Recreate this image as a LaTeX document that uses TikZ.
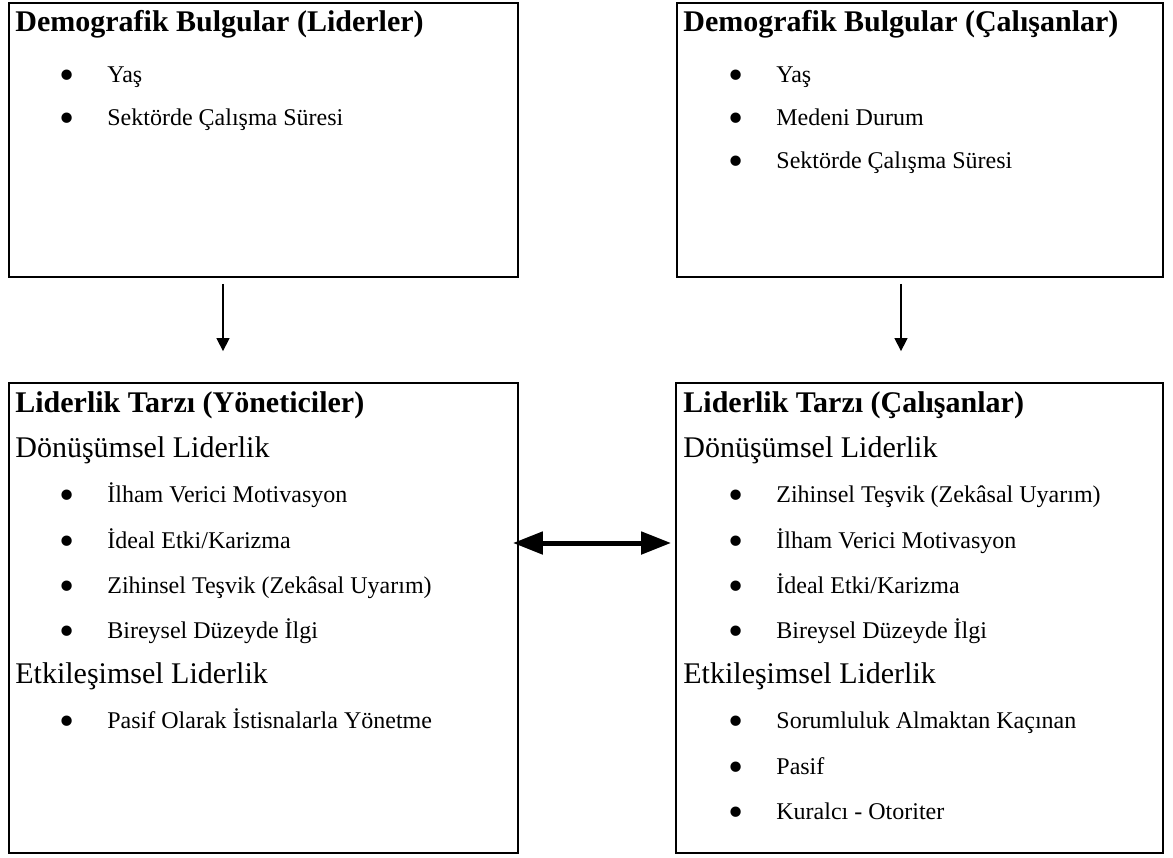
\documentclass[tikz,border=0pt]{standalone}
\usepackage{fontspec}
\setmainfont{Liberation Serif}
\usepackage{tikz}
\usetikzlibrary{arrows.meta}

\newcommand{\blt}{\makebox[0pt]{\raisebox{-3.6pt}{\scalebox{1.8}{\textbullet}}}\hspace{20pt}}

\begin{document}
\begin{tikzpicture}[x=0.5pt, y=-0.5pt,
    box/.style={draw, line width=0.9pt, inner sep=0pt},
    head/.style={anchor=base west, inner sep=0pt, font=\fontsize{15}{18}\selectfont\bfseries},
    sub/.style={anchor=base west, inner sep=0pt, font=\fontsize{15}{18}\selectfont},
    item/.style={anchor=base west, inner sep=0pt, font=\fontsize{12}{14}\selectfont}]
    \useasboundingbox (0,0) rectangle (1173,857);
    % boxes
    \node[box, minimum width=254.5pt, minimum height=137pt] (DL) at (263.5, 140){};
    \node[box, minimum width=243pt, minimum height=137pt] (DC) at (920, 140){};
    \node[box, minimum width=254.5pt, minimum height=235pt] (LY) at (263.5, 618){};
    \node[box, minimum width=243.5pt, minimum height=235pt] (LC) at (919.5, 618){};
    % demografik bulgular
    \node[head] (DLh) at (15, 31){Demografik Bulgular (Liderler)};
    \node[item] (DL1) at (67, 82){\blt Yaş};
    \node[item] (DL2) at (67, 125){\blt Sektörde Çalışma Süresi};
    \node[head] (DCh) at (683, 31){Demografik Bulgular (Çalışanlar)};
    \node[item] (DC1) at (736, 82){\blt Yaş};
    \node[item] (DC2) at (736, 125){\blt Medeni Durum};
    \node[item] (DC3) at (736, 168){\blt Sektörde Çalışma Süresi};
    % liderlik tarzi (yoneticiler)
    \node[head] (LYh) at (15, 412){Liderlik Tarzı (Yöneticiler)};
    \node[sub] (LYd) at (15, 457){Dönüşümsel Liderlik};
    \node[item] (LY1) at (67, 502){\blt İlham Verici Motivasyon};
    \node[item] (LY2) at (67, 548){\blt İdeal Etki/Karizma};
    \node[item] (LY3) at (67, 593){\blt Zihinsel Teşvik (Zekâsal Uyarım)};
    \node[item] (LY4) at (67, 638){\blt Bireysel Düzeyde İlgi};
    \node[sub] (LYe) at (15, 683){Etkileşimsel Liderlik};
    \node[item] (LY5) at (67, 728){\blt Pasif Olarak İstisnalarla Yönetme};
    % liderlik tarzi (calisanlar)
    \node[head] (LCh) at (683, 412){Liderlik Tarzı (Çalışanlar)};
    \node[sub] (LCd) at (683, 457){Dönüşümsel Liderlik};
    \node[item] (LC1) at (736, 502){\blt Zihinsel Teşvik (Zekâsal Uyarım)};
    \node[item] (LC2) at (736, 548){\blt İlham Verici Motivasyon};
    \node[item] (LC3) at (736, 593){\blt İdeal Etki/Karizma};
    \node[item] (LC4) at (736, 638){\blt Bireysel Düzeyde İlgi};
    \node[sub] (LCe) at (683, 683){Etkileşimsel Liderlik};
    \node[item] (LC5) at (736, 728){\blt Sorumluluk Almaktan Kaçınan};
    \node[item] (LC6) at (736, 774){\blt Pasif};
    \node[item] (LC7) at (736, 819){\blt Kuralcı - Otoriter};
    % arrows
    \draw[-{Triangle[length=6.5pt, width=6.5pt]}, line width=0.7pt]
        ([xshift=-20.25pt, yshift=-3pt]DL.south)--([xshift=-20.25pt, yshift=15.5pt]LY.north);
    \draw[-{Triangle[length=6.5pt, width=6.5pt]}, line width=0.7pt]
        ([xshift=-9.5pt, yshift=-3pt]DC.south)--([xshift=-9.25pt, yshift=15.5pt]LC.north);
    \draw[{Triangle[length=15pt, width=11pt]}-{Triangle[length=15pt, width=11pt]}, line width=2.5pt]
        ([xshift=-3pt, yshift=37.5pt]LY.east)--([xshift=-2pt, yshift=37.5pt]LC.west);
  \end{tikzpicture}
\end{document}
